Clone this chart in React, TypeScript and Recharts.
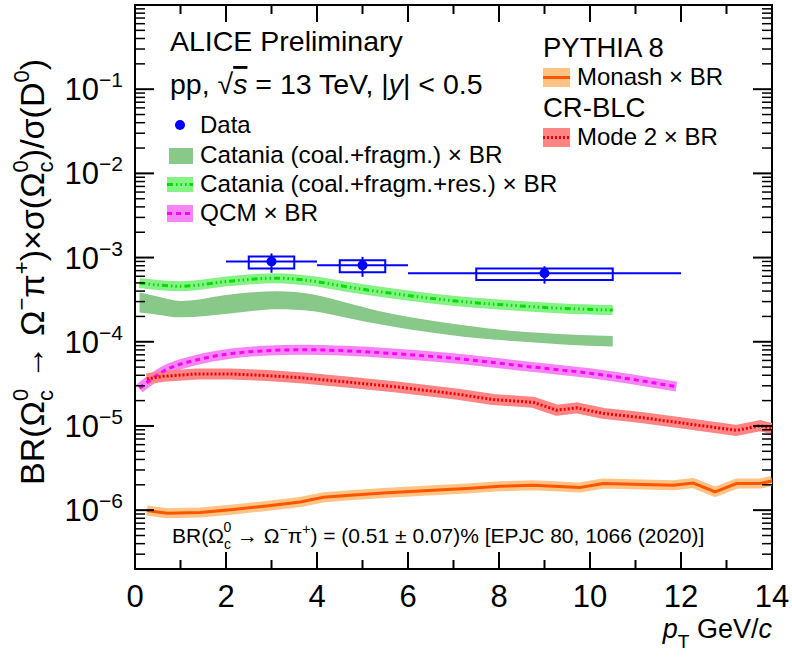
import React from 'react';
import { ComposedChart, XAxis, YAxis, Line, Area, Scatter, ReferenceArea, ReferenceLine } from 'recharts';

const FONT = '"Liberation Sans", Arial, Helvetica, sans-serif';
const W = 792;
const H = 659;
const PLOT_LEFT = 135;
const PLOT_RIGHT = 772;
const PLOT_TOP = 5;
const PLOT_BOTTOM = 569;

// ---------- axis ticks ----------
const X_TICKS = [0, 1, 2, 3, 4, 5, 6, 7, 8, 9, 10, 11, 12, 13, 14];
const X_MAJOR = [0, 2, 4, 6, 8, 10, 12, 14];
const Y_DECADES = [1e-7, 1e-6, 1e-5, 1e-4, 1e-3, 1e-2, 1e-1, 1];
const Y_MULT = [1, 2, 3, 4, 5, 6, 7, 8, 9];
const Y_MIN = 2e-7;
const Y_MAX = 1;
const Y_LABELS = [
  { v: 1e-1, exp: '−1' },
  { v: 1e-2, exp: '−2' },
  { v: 1e-3, exp: '−3' },
  { v: 1e-4, exp: '−4' },
  { v: 1e-5, exp: '−5' },
  { v: 1e-6, exp: '−6' },
];
const Y_TICKS = Y_DECADES.flatMap((d) => Y_MULT.map((m) => m * d)).filter(
  (v) => v >= Y_MIN * 0.999 && v <= Y_MAX * 1.001
);

// ---------- data (ALICE) ----------
const DATA_PT = [3, 5, 9];
const DATA_Y = [9.0e-4, 8.1e-4, 6.5e-4];
const DATA_XLO = [2, 4, 6];
const DATA_XHI = [4, 6, 12];
const DATA_STAT_LO = [6.6e-4, 5.9e-4, 4.9e-4];
const DATA_STAT_HI = [1.12e-3, 1.02e-3, 7.9e-4];
const DATA_SYS_XLO = [2.5, 4.5, 7.5];
const DATA_SYS_XHI = [3.5, 5.5, 10.5];
const DATA_SYS_LO = [7.4e-4, 6.7e-4, 5.4e-4];
const DATA_SYS_HI = [1.03e-3, 9.3e-4, 7.4e-4];

// ---------- Catania (coal.+fragm.) band ----------
const CAT_PT = [0.1, 0.5, 1.0, 2.09, 3.11, 3.92, 4.65, 5.38, 6.12, 7.22, 8.31, 9.41, 10.5];
const CAT_HI = [3.85e-4, 3.45e-4, 3.05e-4, 3.65e-4, 3.99e-4, 3.65e-4, 2.91e-4, 2.31e-4, 1.93e-4, 1.57e-4, 1.34e-4, 1.23e-4, 1.17e-4];
const CAT_LO = [2.23e-4, 2.1e-4, 1.95e-4, 2.17e-4, 2.43e-4, 2.31e-4, 1.93e-4, 1.61e-4, 1.38e-4, 1.15e-4, 1.02e-4, 9.3e-5, 8.8e-5];

// ---------- Catania (coal.+fragm.+res.) ----------
const RES_PT = [0.1, 1.0, 2.09, 3.1, 3.92, 4.65, 5.38, 6.12, 7.22, 8.31, 9.41, 10.5];
const RES_Y = [5.0e-4, 4.57e-4, 5.25e-4, 5.7e-4, 5.25e-4, 4.5e-4, 3.93e-4, 3.48e-4, 2.99e-4, 2.7e-4, 2.49e-4, 2.38e-4];

// ---------- QCM ----------
const QCM_PT = [0.1, 0.62, 1.36, 2.09, 2.82, 3.7, 4.65, 5.75, 7.1, 8.61, 10.07, 11.9];
const QCM_Y = [2.8e-5, 4.46e-5, 6.1e-5, 7.2e-5, 7.8e-5, 8.04e-5, 7.8e-5, 7.2e-5, 6.3e-5, 5.1e-5, 4.18e-5, 2.93e-5];

// ---------- PYTHIA 8 CR-BLC Mode 2 ----------
const CR_PT = [0.26, 0.62, 1.36, 2.09, 2.82, 3.7, 4.65, 5.75, 7.1, 7.87, 8.75, 9.27, 9.71, 10.29, 11.17, 12.27, 13.22, 13.74, 14.0];
const CR_Y = [3.62e-5, 3.89e-5, 4.15e-5, 4.15e-5, 3.99e-5, 3.72e-5, 3.33e-5, 2.91e-5, 2.38e-5, 2.06e-5, 1.91e-5, 1.54e-5, 1.64e-5, 1.41e-5, 1.25e-5, 1.04e-5, 8.85e-6, 1.01e-5, 9.3e-6];

// ---------- PYTHIA 8 Monash ----------
const MON_PT = [0.26, 0.7, 1.43, 2.16, 2.89, 3.63, 4.14, 4.73, 5.46, 6.55, 7.29, 8.02, 8.75, 9.78, 10.29, 10.95, 11.83, 12.27, 12.75, 13.22, 13.74, 14.0];
const MON_Y = [9.9e-7, 9.2e-7, 9.4e-7, 1.02e-6, 1.12e-6, 1.25e-6, 1.42e-6, 1.5e-6, 1.6e-6, 1.72e-6, 1.81e-6, 1.92e-6, 1.98e-6, 1.86e-6, 2.07e-6, 2.03e-6, 1.98e-6, 2.1e-6, 1.65e-6, 2.07e-6, 2.07e-6, 2.22e-6];

// ---------- colours ----------
const C_DATA = '#0000ff';
const C_CAT = '#88c888';
const C_RES_BAND = '#85f285';
const C_RES_LINE = '#00dd00';
const C_QCM_BAND = '#f885f8';
const C_QCM_LINE = '#ff00ff';
const C_CR_BAND = '#ff8484';
const C_CR_LINE = '#ee0000';
const C_MON_BAND = '#ffc484';
const C_MON_LINE = '#ff5500';

const DASH_RES = '6 3 1.5 3 1.5 3 1.5 3';
const DASH_QCM = '5 4';
const DASH_CR = '2 2';

const series = (xs: number[], ys: number[]) => xs.map((x, i) => ({ x, y: ys[i] }));
const catData = CAT_PT.map((x, i) => ({ x, range: [CAT_LO[i], CAT_HI[i]] }));
const resData = series(RES_PT, RES_Y);
const qcmData = series(QCM_PT, QCM_Y);
const crData = series(CR_PT, CR_Y);
const monData = series(MON_PT, MON_Y);
const dataPts = series(DATA_PT, DATA_Y);

const XTick = (props: any) => {
  const { x, payload } = props;
  const v = payload.value;
  const major = X_MAJOR.includes(v);
  const len = major ? 17 : 9;
  return (
    <g>
      <line x1={x} x2={x} y1={PLOT_BOTTOM} y2={PLOT_BOTTOM - len} stroke="#000" strokeWidth={2} />
      <line x1={x} x2={x} y1={PLOT_TOP} y2={PLOT_TOP + len} stroke="#000" strokeWidth={2} />
      {major && (
        <text x={x} y={607} textAnchor="middle" fontSize={31} fontFamily={FONT} fill="#000">
          {v}
        </text>
      )}
    </g>
  );
};

const YTick = (props: any) => {
  const { y, payload } = props;
  const v = payload.value;
  const lab = Y_LABELS.find((l) => Math.abs(l.v - v) / l.v < 1e-6);
  const major = Y_DECADES.some((d) => Math.abs(d - v) / d < 1e-6);
  const len = major ? 19 : 10;
  const sw = major ? 2 : 1.5;
  return (
    <g>
      <line x1={PLOT_LEFT} x2={PLOT_LEFT + len} y1={y} y2={y} stroke="#000" strokeWidth={sw} />
      <line x1={PLOT_RIGHT - len} x2={PLOT_RIGHT} y1={y} y2={y} stroke="#000" strokeWidth={sw} />
      {lab && (
        <text x={123} y={y + 11} textAnchor="end" fontSize={31} fontFamily={FONT} fill="#000">
          10
          <tspan dy={-13} fontSize={21}>
            {lab.exp}
          </tspan>
        </text>
      )}
    </g>
  );
};

const Overlay = () => (
  <svg
    width={W}
    height={H}
    style={{ position: 'absolute', left: 0, top: 0, pointerEvents: 'none' }}
    fontFamily={FONT}
  >
    {/* y-axis title */}
    <text transform="rotate(-90)" x={-272} y={44} textAnchor="middle" fontSize={34} fill="#000">
      BR(Ω
      <tspan dy={9} fontSize={22}>c</tspan>
      <tspan dx={-11} dy={-25} fontSize={22}>0</tspan>
      <tspan dy={16} fontSize={34}> → Ω</tspan>
      <tspan dy={-15} fontSize={22}>−</tspan>
      <tspan dy={15} fontSize={34}>π</tspan>
      <tspan dy={-15} fontSize={22}>+</tspan>
      <tspan dy={15} fontSize={34}>)×σ(Ω</tspan>
      <tspan dy={9} fontSize={22}>c</tspan>
      <tspan dx={-11} dy={-25} fontSize={22}>0</tspan>
      <tspan dy={16} fontSize={34}>)/σ(D</tspan>
      <tspan dy={-15} fontSize={22}>0</tspan>
      <tspan dy={15} fontSize={34}>)</tspan>
    </text>

    {/* x-axis title */}
    <text x={772} y={638} textAnchor="end" fontSize={27} fill="#000">
      <tspan fontStyle="italic">p</tspan>
      <tspan dy={10} fontSize={19}>T</tspan>
      <tspan dy={-10}> GeV/</tspan>
      <tspan fontStyle="italic">c</tspan>
    </text>

    {/* header */}
    <text x={170} y={51} fontSize={28.5} fill="#000">ALICE Preliminary</text>
    <text x={170} y={94} fontSize={28.5} fill="#000">
      pp, √<tspan fontStyle="italic" textDecoration="overline">s</tspan> = 13 TeV, |
      <tspan fontStyle="italic">y</tspan>| &lt; 0.5
    </text>

    {/* left legend */}
    <circle cx={180} cy={125} r={5} fill={C_DATA} />
    <text x={200} y={133} fontSize={24} fill="#000">Data</text>

    <rect x={169} y={148} width={24} height={16} fill={C_CAT} />
    <text x={200} y={163} fontSize={24.3} fill="#000">Catania (coal.+fragm.) × BR</text>

    <rect x={167} y={177} width={26} height={15} fill={C_RES_BAND} />
    <line x1={167} x2={193} y1={184.5} y2={184.5} stroke={C_RES_LINE} strokeWidth={3} strokeDasharray={DASH_RES} />
    <text x={200} y={192} fontSize={24.3} fill="#000">Catania (coal.+fragm.+res.) × BR</text>

    <rect x={167} y={205} width={26} height={17} fill={C_QCM_BAND} />
    <line x1={167} x2={193} y1={213.5} y2={213.5} stroke={C_QCM_LINE} strokeWidth={3} strokeDasharray={DASH_QCM} />
    <text x={200} y={221} fontSize={24.3} fill="#000">QCM × BR</text>

    {/* right legend */}
    <text x={543} y={57} fontSize={27.5} fill="#000">PYTHIA 8</text>
    <rect x={543} y={68} width={27} height={19} fill={C_MON_BAND} />
    <line x1={543} x2={570} y1={77.5} y2={77.5} stroke={C_MON_LINE} strokeWidth={3} />
    <text x={577} y={85} fontSize={24} fill="#000">Monash × BR</text>

    <text x={543} y={117} fontSize={27.5} fill="#000">CR-BLC</text>
    <rect x={543} y={128} width={27} height={19} fill={C_CR_BAND} />
    <line x1={543} x2={570} y1={137.5} y2={137.5} stroke={C_CR_LINE} strokeWidth={3} strokeDasharray={DASH_CR} />
    <text x={577} y={145} fontSize={24} fill="#000">Mode 2 × BR</text>

    {/* BR annotation */}
    <text x={172} y={543} fontSize={21} fill="#000">
      BR(Ω
      <tspan dy={6} fontSize={14}>c</tspan>
      <tspan dx={-7.5} dy={-17} fontSize={14}>0</tspan>
      <tspan dy={11} fontSize={21}> → Ω</tspan>
      <tspan dy={-9} fontSize={14}>−</tspan>
      <tspan dy={9} fontSize={21}>π</tspan>
      <tspan dy={-9} fontSize={14}>+</tspan>
      <tspan dy={9} fontSize={21}>) = (0.51 ± 0.07)% [EPJC 80, 1066 (2020)]</tspan>
    </text>
  </svg>
);

export default function App() {
  return (
    <div style={{ position: 'absolute', left: 0, top: 0, width: W, height: H, background: '#fff' }}>
      <ComposedChart
        width={W}
        height={H}
        margin={{ top: PLOT_TOP, right: W - PLOT_RIGHT, bottom: 0, left: 0 }}
        style={{ fontFamily: FONT }}
      >
        <XAxis
          type="number"
          dataKey="x"
          domain={[0, 14]}
          ticks={X_TICKS}
          interval={0}
          tick={(p: any) => <XTick {...p} />}
          tickLine={false}
          axisLine={false}
          height={H - PLOT_BOTTOM}
          allowDataOverflow
        />
        <YAxis
          type="number"
          scale="log"
          domain={[Y_MIN, Y_MAX]}
          ticks={Y_TICKS}
          interval={0}
          tick={(p: any) => <YTick {...p} />}
          tickLine={false}
          axisLine={false}
          width={PLOT_LEFT}
          allowDataOverflow
        />

        <Area data={catData} dataKey="range" type="monotone" fill={C_CAT} fillOpacity={1} stroke="none" isAnimationActive={false} />

        <Line data={resData} dataKey="y" type="monotone" stroke={C_RES_BAND} strokeWidth={10} strokeLinejoin="round" dot={false} isAnimationActive={false} />
        <Line data={qcmData} dataKey="y" type="monotone" stroke={C_QCM_BAND} strokeWidth={10} strokeLinejoin="round" dot={false} isAnimationActive={false} />
        <Line data={crData} dataKey="y" type="linear" stroke={C_CR_BAND} strokeWidth={11} strokeLinejoin="round" dot={false} isAnimationActive={false} />
        <Line data={monData} dataKey="y" type="linear" stroke={C_MON_BAND} strokeWidth={10} strokeLinejoin="round" dot={false} isAnimationActive={false} />

        <Line data={resData} dataKey="y" type="monotone" stroke={C_RES_LINE} strokeWidth={3} strokeDasharray={DASH_RES} dot={false} isAnimationActive={false} />
        <Line data={qcmData} dataKey="y" type="monotone" stroke={C_QCM_LINE} strokeWidth={3} strokeDasharray={DASH_QCM} dot={false} isAnimationActive={false} />
        <Line data={crData} dataKey="y" type="linear" stroke={C_CR_LINE} strokeWidth={3} strokeDasharray={DASH_CR} dot={false} isAnimationActive={false} />
        <Line data={monData} dataKey="y" type="linear" stroke={C_MON_LINE} strokeWidth={3} dot={false} isAnimationActive={false} />

        {DATA_PT.map((x, i) => (
          <ReferenceLine key={'h' + i} segment={[{ x: DATA_XLO[i], y: DATA_Y[i] }, { x: DATA_XHI[i], y: DATA_Y[i] }]} stroke={C_DATA} strokeWidth={2} ifOverflow="visible" />
        ))}
        {DATA_PT.map((x, i) => (
          <ReferenceLine key={'v' + i} segment={[{ x, y: DATA_STAT_LO[i] }, { x, y: DATA_STAT_HI[i] }]} stroke={C_DATA} strokeWidth={2} ifOverflow="visible" />
        ))}
        {DATA_PT.map((x, i) => (
          <ReferenceArea key={'b' + i} x1={DATA_SYS_XLO[i]} x2={DATA_SYS_XHI[i]} y1={DATA_SYS_LO[i]} y2={DATA_SYS_HI[i]} fill="none" fillOpacity={0} stroke={C_DATA} strokeWidth={2} ifOverflow="visible" />
        ))}
        <Scatter
          data={dataPts}
          dataKey="y"
          fill={C_DATA}
          isAnimationActive={false}
          shape={(p: any) => <circle cx={p.cx} cy={p.cy} r={5} fill={C_DATA} />}
        />

        <ReferenceArea x1={0} x2={14} y1={Y_MIN} y2={Y_MAX} fill="none" fillOpacity={0} stroke="#000" strokeWidth={2} ifOverflow="visible" />
      </ComposedChart>
      <Overlay />
    </div>
  );
}
